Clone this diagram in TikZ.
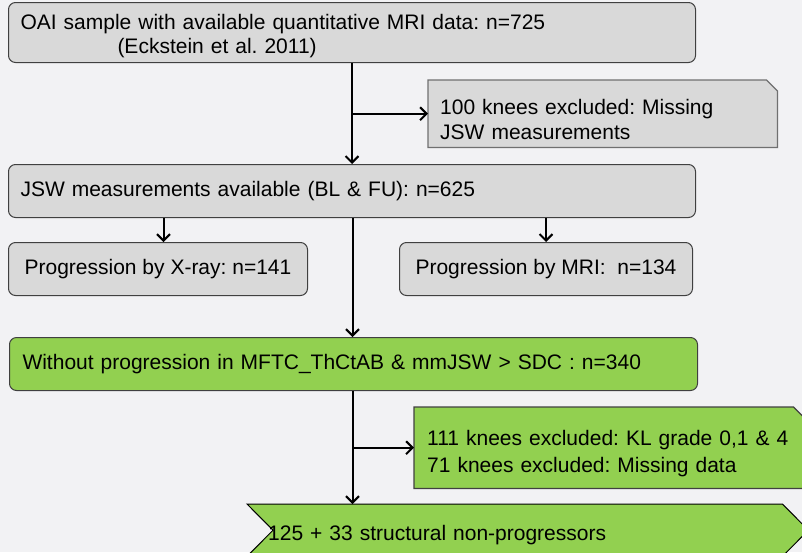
\documentclass[tikz,border=0pt]{standalone}
\usepackage{fontspec}
\setmainfont{Liberation Sans}
\usetikzlibrary{arrows.meta,backgrounds}
\definecolor{bgcol}{HTML}{F2F2F4}
\definecolor{boxgray}{HTML}{D9D9D9}
\definecolor{edgegray}{HTML}{404040}
\definecolor{exgray}{HTML}{707070}
\definecolor{boxgreen}{HTML}{92D050}
\newcommand\lowerby[2]{\raisebox{-#1}[\height][\depth]{#2}}
\tikzset{
  basefont/.style={font=\fontsize{21}{25}\selectfont\frenchspacing},
  rbox/.style={basefont, rectangle, rounded corners=7pt, draw=edgegray, line width=1pt,
    inner ysep=0pt, anchor=north west, align=left},
  graybox/.style={rbox, fill=boxgray},
  greenbox/.style={rbox, fill=boxgreen},
  plainbox/.style={basefont, rectangle, inner ysep=0pt, anchor=north west, align=left},
  exshape/.style={line width=1.2pt},
  arr/.style={line width=2pt, -{Straight Barb[length=6.5pt,width=13pt]}},
}
\begin{document}
\begin{tikzpicture}[x=1pt,y=-1pt]
\useasboundingbox (0,0) rectangle (802,552);
\begin{scope}[on background layer]
  \fill[bgcol] (0,0) rectangle (802,552);
\end{scope}

% main boxes
\node[graybox, minimum width=687pt, minimum height=60pt, text width=663pt, inner xsep=12pt] (oai) at (8,2)
  {\lowerby{4pt}{OAI sample with available quantitative MRI data: n=725}\\\hspace*{97pt}\lowerby{3pt}{(Eckstein et al. 2011)}};
\node[plainbox, minimum width=349pt, minimum height=67pt, text width=325pt, inner xsep=12pt] (ex1) at (428,80)
  {\lowerby{5.5pt}{100 knees excluded: Missing}\\\lowerby{5.5pt}{JSW measurements}};
\node[graybox, minimum width=687pt, minimum height=53pt, text width=663pt, inner xsep=12pt] (jsw) at (8,164)
  {JSW measurements available (BL \& FU): n=625};
\node[graybox, minimum width=299pt, minimum height=53pt, align=center] (xray) at (8,242)
  {Progression by X-ray: n=141};
\node[graybox, minimum width=293pt, minimum height=53pt, align=center] (mri) at (399,242)
  {Progression by MRI:\ \ n=134};
\node[greenbox, minimum width=688pt, minimum height=53pt, text width=662pt, inner xsep=13pt] (green) at (9,337)
  {Without progression in MFTC\_ThCtAB \& mmJSW > SDC : n=340};
\node[plainbox, minimum width=391pt, minimum height=81pt, text width=365pt, inner xsep=13pt] (ex2) at (414,407)
  {\lowerby{5pt}{111 knees excluded: KL grade 0,1 \& 4}\\\lowerby{7pt}{71 knees excluded: Missing data}};
\node[plainbox, minimum width=561pt, minimum height=52pt, text width=519pt, inner xsep=21pt] (fin) at (247,504)
  {\lowerby{5pt}{125 + 33 structural non-progressors}};

% snipped and chevron shapes behind their texts
\begin{scope}[on background layer]
  \draw[exshape, draw=exgray, fill=boxgray]
    (ex1.south west) -- (ex1.north west) -- ([xshift=-11pt]ex1.north east)
    -- ([yshift=-11pt]ex1.north east) -- (ex1.south east) -- cycle;
  \draw[exshape, draw=edgegray, fill=boxgreen]
    (ex2.south west) -- (ex2.north west) -- ([xshift=-12pt]ex2.north east)
    -- ([yshift=-12pt]ex2.north east) -- (ex2.south east) -- cycle;
  \draw[line width=1pt, draw=black, fill=boxgreen]
    (fin.north west) -- ([xshift=-26pt]fin.north east) -- (fin.east)
    -- ([xshift=-26pt]fin.south east) -- (fin.south west) -- ([xshift=26pt]fin.west) -- cycle;
\end{scope}

% connectors
\draw[arr] (oai.south) -- (jsw.north);
\draw[arr] (oai.south |- ex1.west) -- (ex1.west);
\draw[arr] ([xshift=5.5pt]xray.north |- jsw.south) -- ([xshift=5.5pt]xray.north);
\draw[arr] (mri.north |- jsw.south) -- (mri.north);
\draw[arr] ([xshift=0.5pt]jsw.south) -- ([xshift=0.5pt]jsw.south |- green.north);
\draw[arr] ([xshift=0.5pt]jsw.south |- green.south) -- ([xshift=0.5pt]jsw.south |- fin.north);
\draw[arr] ([xshift=0.5pt]jsw.south |- ex2.west) -- (ex2.west);
\end{tikzpicture}
\end{document}
